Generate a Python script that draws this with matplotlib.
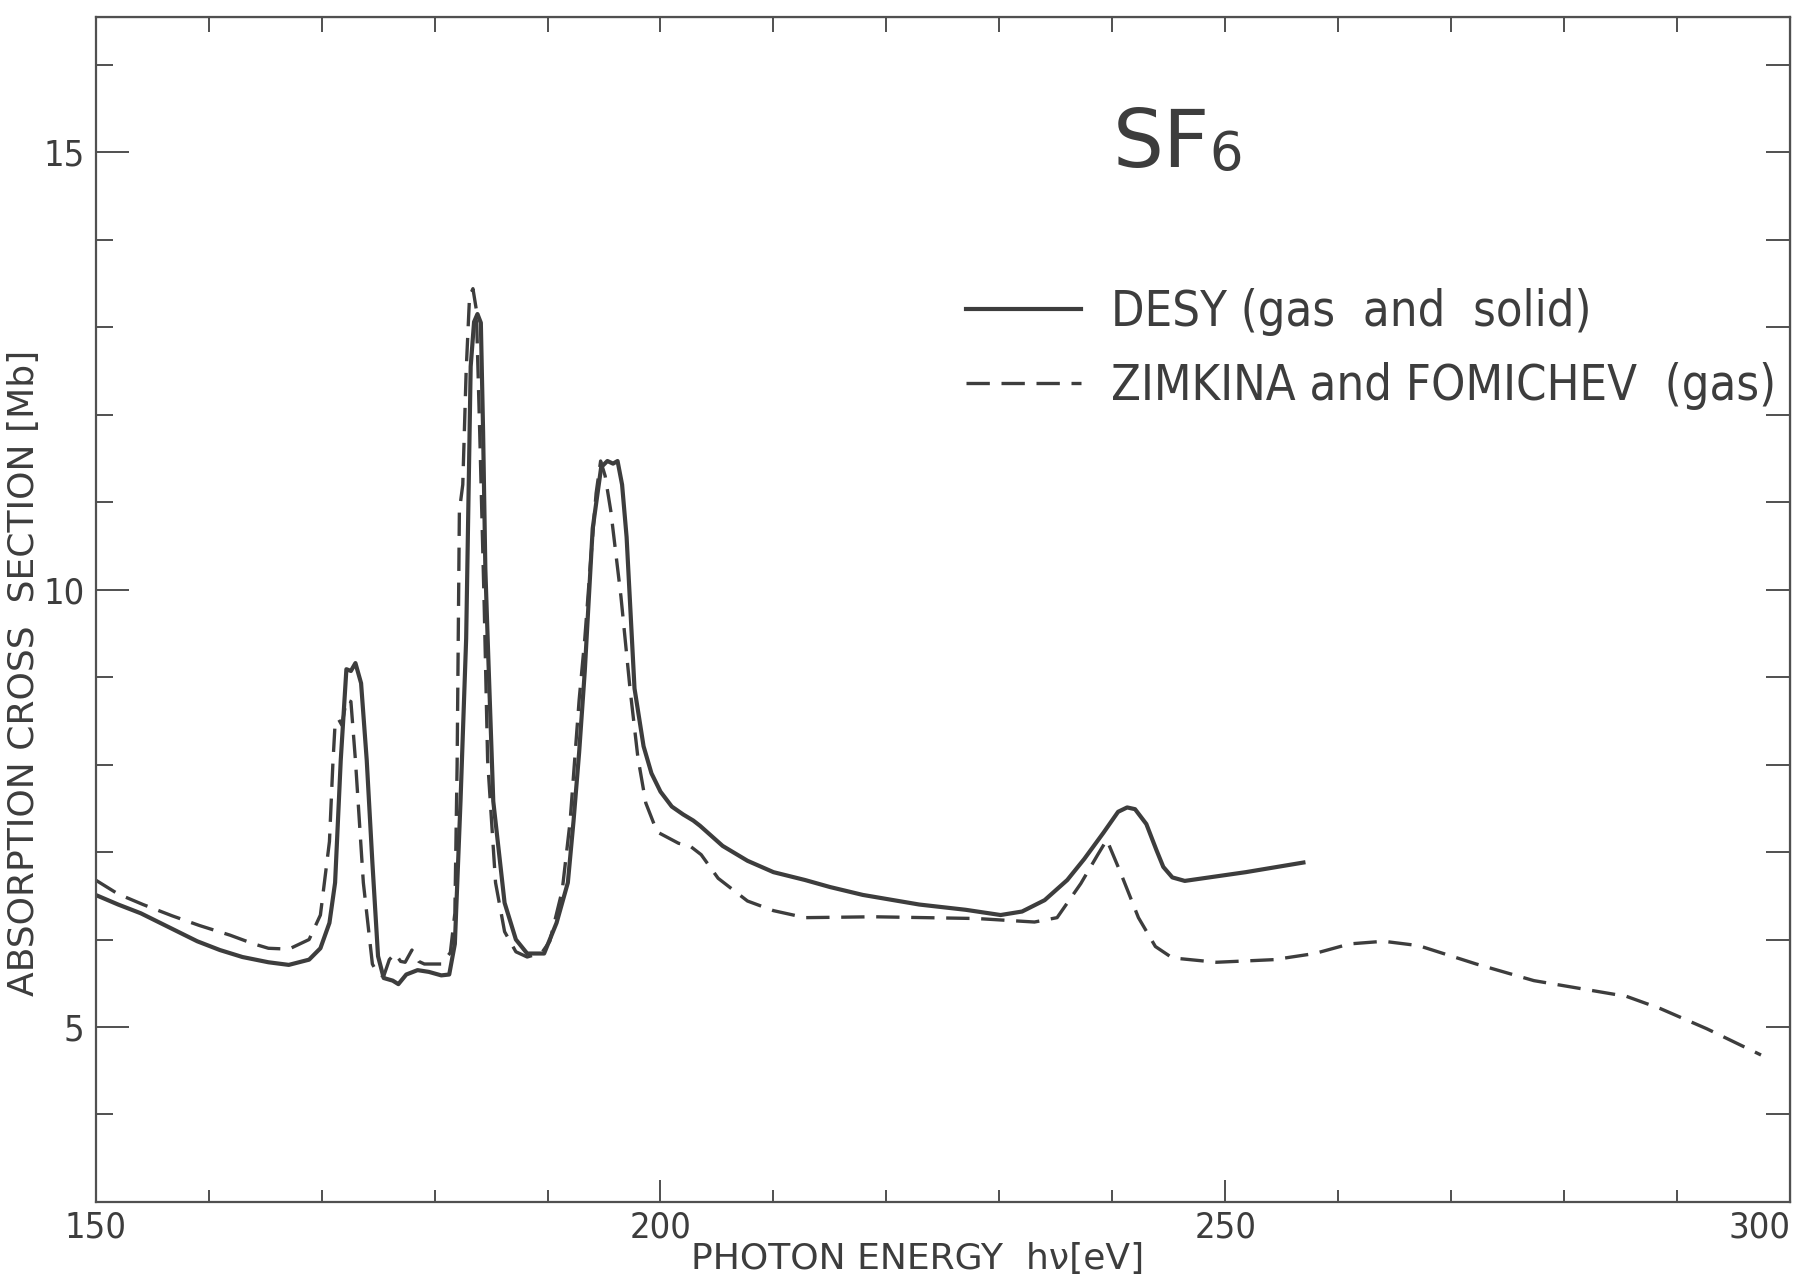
import numpy as np
import matplotlib
matplotlib.use("Agg")
from matplotlib import pyplot as plt
from matplotlib.ticker import MultipleLocator
from matplotlib.font_manager import FontProperties

plt.rcParams["font.family"] = ["DejaVu Sans"]

# DESY (gas and solid) -- solid curve
desy_e = [150, 152, 154, 156.5, 159, 161, 163, 165.3, 167.1, 168.9, 169.9,
          170.7, 171.2, 171.7, 172.2, 172.6, 173.0, 173.5, 174.0, 174.5, 175.0,
          175.5, 176.3, 176.8, 177.5, 178.5, 179.5, 180.6, 181.3, 181.8, 182.3,
          182.8, 183.2, 183.5, 183.8, 184.1, 184.3, 184.5, 184.7, 185.2, 186.2,
          187.2, 188.2, 189.7, 190.8, 191.8, 192.3, 192.8, 193.3, 194.0, 194.75,
          195.3, 195.8, 196.2, 196.6, 197.0, 197.7, 198.5, 199.2, 200.0, 201.0,
          202.0, 202.9, 203.5, 205.5, 207.7, 210.0, 212.8, 215.0, 217.9, 222.9,
          227.0, 230.1, 232.0, 234.0, 236.0, 237.5, 239.2, 240.5, 241.3, 242.0,
          243.0, 243.9, 244.5, 245.3, 246.4, 251.8, 256.9]
desy_sigma = [6.51, 6.40, 6.30, 6.14, 5.98, 5.88, 5.80, 5.74, 5.71, 5.77, 5.90,
              6.19, 6.65, 8.05, 9.09, 9.07, 9.16, 8.93, 8.05, 6.88, 5.81,
              5.56, 5.53, 5.49, 5.60, 5.65, 5.63, 5.59, 5.60, 5.95, 7.58,
              9.44, 12.55, 13.06, 13.15, 13.05, 11.8, 10.23, 9.45, 7.58, 6.42,
              6.00, 5.84, 5.84, 6.19, 6.65, 7.35, 8.14, 9.07, 10.7, 11.40,
              11.47, 11.44, 11.47, 11.2, 10.6, 8.87, 8.21, 7.90, 7.69, 7.52,
              7.43, 7.36, 7.30, 7.07, 6.90, 6.77, 6.68, 6.60, 6.51, 6.40,
              6.34, 6.28, 6.32, 6.45, 6.68, 6.92, 7.22, 7.46, 7.51, 7.49,
              7.32, 7.02, 6.83, 6.71, 6.67, 6.77, 6.88]

# ZIMKINA and FOMICHEV (gas) -- dashed curve
zf_e = [150, 152, 154.2, 156.8, 159.2, 161.9, 164.0, 165.3, 167.1, 168.9,
        169.9, 170.7, 171.0, 171.2, 171.5, 171.8, 172.2, 172.6, 173.0, 173.7,
        174.5, 175.0, 175.5, 176.0, 176.5, 177.0, 177.4, 178.0, 178.6, 179.1,
        180.6, 181.4, 181.8, 182.0, 182.2, 182.5, 182.8, 183.1, 183.4, 183.7,
        184.0, 184.4, 184.7, 185.4, 186.2, 187.2, 188.2, 189.5, 190.2, 191.3,
        192.0, 192.8, 193.3, 193.8, 194.3, 194.7, 195.1, 195.6, 196.5, 197.3,
        198.0, 198.7, 199.7, 201.6, 202.6, 203.6, 205.1, 207.7, 210.0, 212.8,
        218.9, 228.0, 233.1, 235.1, 237.2, 238.7, 239.5, 240.7, 242.3, 243.8,
        245.3, 249.2, 254.3, 257.9, 261.0, 264.0, 267.1, 272.2, 277.3, 281.4,
        285.5, 288.5, 292.6, 297.4]
zf_sigma = [6.68, 6.52, 6.40, 6.27, 6.16, 6.05, 5.95, 5.90, 5.89, 6.00,
            6.28, 7.12, 8.00, 8.47, 8.52, 8.45, 8.74, 8.72, 8.05, 6.65,
            5.72, 5.60, 5.58, 5.77, 5.84, 5.75, 5.74, 5.88, 5.75, 5.72,
            5.72, 5.85, 6.30, 8.00, 10.9, 11.2, 12.5, 13.35, 13.44, 13.2,
            11.8, 9.8, 8.05, 6.65, 6.09, 5.86, 5.80, 5.85, 5.98, 6.56,
            7.35, 8.74, 9.44, 10.3, 11.1, 11.47, 11.3, 10.9, 9.92, 8.87,
            8.08, 7.56, 7.23, 7.10, 7.07, 6.97, 6.70, 6.44, 6.33, 6.25,
            6.26, 6.24, 6.20, 6.25, 6.64, 6.97, 7.14, 6.77, 6.25, 5.92,
            5.79, 5.74, 5.77, 5.84, 5.95, 5.98, 5.93, 5.72, 5.53, 5.44,
            5.35, 5.21, 4.98, 4.68]

x_ticks = [150, 200, 250, 300]
y_ticks = [5, 10, 15]

ink = "#3d3d3d"
narrow = FontProperties(family="DejaVu Sans", stretch="condensed", size=26)

fig = plt.figure(figsize=(18.03, 12.78), dpi=100)
ax = fig.add_axes([0.053, 0.0595, 0.940, 0.9275])

ax.plot(desy_e, desy_sigma, color=ink, lw=3.0, solid_joinstyle="round",
        label="DESY (gas  and  solid)")
ax.plot(zf_e, zf_sigma, color=ink, lw=2.4, dashes=(7, 3.5),
        label="ZIMKINA and FOMICHEV  (gas)")

ax.set_xlim(150, 300)
ax.set_ylim(3, 16.55)

for s in ax.spines.values():
    s.set_color("#505050")
    s.set_linewidth(1.6)

ax.set_xticks(x_ticks)
ax.set_yticks(y_ticks)
ax.xaxis.set_minor_locator(MultipleLocator(10))
ax.yaxis.set_minor_locator(MultipleLocator(1))
ax.tick_params(axis="both", which="both", direction="in", color="#505050",
               labelcolor=ink, width=1.4)
ax.tick_params(axis="y", which="major", length=24, pad=8)
ax.tick_params(axis="y", which="minor", length=12)
ax.tick_params(axis="x", which="major", length=16, pad=6)
ax.tick_params(axis="x", which="minor", length=9)
for lab in ax.get_xticklabels() + ax.get_yticklabels():
    lab.set_fontproperties(narrow)
ax.get_xticklabels()[-1].set_horizontalalignment("right")

# plain ticks on the top and right sides
top = ax.secondary_xaxis("top")
top.set_xticks(np.arange(150, 301, 10))
top.tick_params(direction="in", length=11, width=1.4, color="#505050",
                labeltop=False)
right = ax.secondary_yaxis("right")
right.set_yticks(np.arange(4, 17, 1))
right.tick_params(direction="in", length=17, width=1.4, color="#505050",
                  labelright=False)

ax.set_xlabel("PHOTON ENERGY  hν[eV]", fontsize=26, color=ink)
ax.xaxis.set_label_coords(0.485, -0.034)
ax.set_ylabel("ABSORPTION CROSS  SECTION [Mb]", fontsize=26, color=ink)
ax.yaxis.set_label_coords(-0.032, 0.446)

ax.text(0.600, 0.873, "SF", transform=ax.transAxes, fontsize=58,
        color=ink, ha="left", va="baseline")
ax.text(0.657, 0.871, "6", transform=ax.transAxes, fontsize=38,
        color=ink, ha="left", va="baseline")

leg_font = FontProperties(family="DejaVu Sans", stretch="condensed", size=35)
ax.legend(loc="upper left", bbox_to_anchor=(0.536, 0.775),
          bbox_transform=fig.transFigure, frameon=False, prop=leg_font,
          handlelength=2.35, handletextpad=0.62, labelspacing=0.55,
          borderpad=0, borderaxespad=0, labelcolor=ink)

fig.savefig("out.png", dpi=100)
